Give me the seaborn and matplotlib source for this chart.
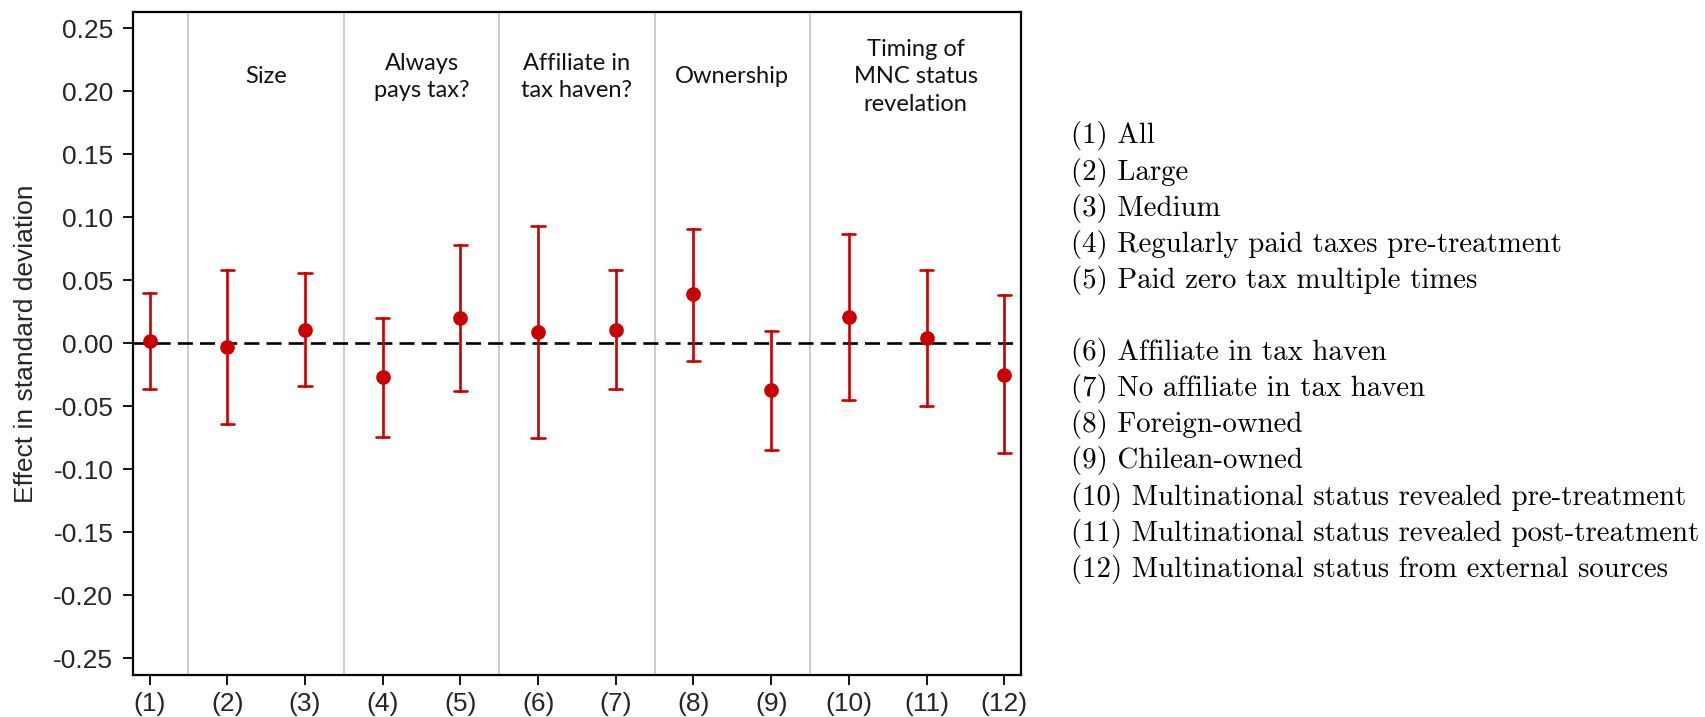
import numpy as np
import pandas as pd
import matplotlib
matplotlib.use("Agg")
import matplotlib.pyplot as plt
import seaborn as sns

# ---- data ----
labels = ["(1)", "(2)", "(3)", "(4)", "(5)", "(6)", "(7)", "(8)", "(9)", "(10)", "(11)", "(12)"]
estimate = [0.002, -0.003, 0.011, -0.027, 0.020, 0.009, 0.011, 0.039, -0.037, 0.021, 0.004, -0.025]
ci_low = [-0.036, -0.064, -0.034, -0.074, -0.038, -0.075, -0.036, -0.014, -0.085, -0.045, -0.050, -0.087]
ci_high = [0.040, 0.058, 0.056, 0.020, 0.078, 0.093, 0.058, 0.091, 0.010, 0.087, 0.058, 0.038]

yticks = [0.25, 0.20, 0.15, 0.10, 0.05, 0.00, -0.05, -0.10, -0.15, -0.20, -0.25]
ytick_labels = ["0.25", "0.20", "0.15", "0.10", "0.05", "0.00", "-0.05", "-0.10", "-0.15", "-0.20", "-0.25"]

group_titles = ["Size", "Always\npays tax?", "Affiliate in\ntax haven?", "Ownership", "Timing of\nMNC status\nrevelation"]
group_bounds = [(1.5, 3.5), (3.5, 5.5), (5.5, 7.5), (7.5, 9.5), (9.5, None)]
separators = [1.5, 3.5, 5.5, 7.5, 9.5]

legend_lines = [
    "(1) All",
    "(2) Large",
    "(3) Medium",
    "(4) Regularly paid taxes pre-treatment",
    "(5) Paid zero tax multiple times",
    "",
    "(6) Affiliate in tax haven",
    "(7) No affiliate in tax haven",
    "(8) Foreign-owned",
    "(9) Chilean-owned",
    "(10) Multinational status revealed pre-treatment",
    "(11) Multinational status revealed post-treatment",
    "(12) Multinational status from external sources",
]

# long table: low / estimate / high per category; median = estimate, min/max = CI
rows = []
for lab, lo, est, hi in zip(labels, ci_low, estimate, ci_high):
    for v in (lo, est, hi):
        rows.append({"spec": lab, "value": v})
df = pd.DataFrame(rows)

sns.set_theme(style="white")
plt.rcParams["font.family"] = ["Liberation Sans", "DejaVu Sans"]

W, H = 1705, 717
fig = plt.figure(figsize=(W / 100, H / 100), dpi=100)
ax = fig.add_axes([132.7 / W, 1 - 675 / H, (1021 - 132.7) / W, (675 - 12) / H])

red = "#c80000"
sns.pointplot(
    data=df, x="spec", y="value", order=labels,
    estimator=np.median, errorbar=lambda x: (np.min(x), np.max(x)),
    color=red, linestyle="none", marker="o", markersize=8.5,
    capsize=0.17, err_kws={"linewidth": 1.9}, ax=ax, zorder=5,
)

# categorical positions are 0..11 ; spec k sits at k-1
for s in separators:
    ax.axvline(s - 1, color="#c8c8c8", lw=1.3, zorder=1)
ax.axhline(0, color="black", lw=1.9, linestyle=(0, (5.7, 2.7)), zorder=3)

xmin, xmax = 0.7825 - 1, 12.215 - 1
ax.set_xlim(xmin, xmax)
ax.set_ylim(-0.2632, 0.263)

ax.set_yticks(yticks)
ax.set_yticklabels(ytick_labels)
ax.tick_params(axis="both", which="both", direction="out", length=7, width=1.3,
               color="black", labelsize=19, left=True, bottom=True)
ax.tick_params(axis="y", pad=7)
ax.tick_params(axis="x", pad=5)
ax.set_xlabel("")
ax.set_ylabel("Effect in standard deviation", fontsize=19, labelpad=11)

for sp in ax.spines.values():
    sp.set_visible(True)
    sp.set_color("black")
    sp.set_linewidth(1.6)

for title, (a, b) in zip(group_titles, group_bounds):
    left = a - 1
    right = (b - 1) if b is not None else xmax
    ax.text((left + right) / 2, 0.2116, title, ha="center", va="center",
            fontsize=17, family=["Lato", "DejaVu Sans"], color="#111111",
            linespacing=1.38)

# right-hand key
y0 = 136
step = 36.1
for i, line in enumerate(legend_lines):
    if not line:
        continue
    fig.text(1071 / W, 1 - (y0 + i * step) / H, line, ha="left", va="center",
             fontsize=20.8, family=["cmr10", "DejaVu Serif"], color="black")

fig.savefig("out.png", dpi=100)
